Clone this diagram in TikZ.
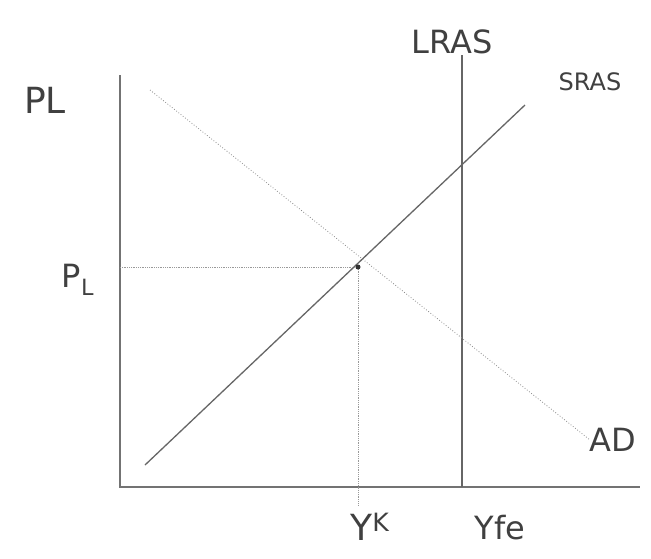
\documentclass[tikz,border=0pt]{standalone}
\usepackage{fontspec}
\setmainfont{DejaVu Sans}
\begin{document}
\begin{tikzpicture}[x=1pt,y=-1pt,
  axis/.style={draw=black!55,line width=2pt},
  curve/.style={draw=black!60,line width=1.3pt},
  faint/.style={draw=black!45,line width=0.8pt,dotted},
  guide/.style={draw=black!40,line width=0.8pt,densely dotted},
  lbl/.style={text=black!75,inner sep=0pt}]
\useasboundingbox[fill=white] (0,0) rectangle (651,558);
\coordinate (O) at (120,487);
\coordinate (ytop) at (120,75);
\coordinate (xend) at (640,487);
\coordinate (ltop) at (462,55);
\coordinate (lbot) at (462,487);
\coordinate (sa) at (145,465);
\coordinate (sb) at (525,105);
\coordinate (aa) at (150,90);
\coordinate (ab) at (590,440);
\coordinate (E) at (358,267);
\coordinate (pl) at (120,267);
\coordinate (yk) at (358,505);
\draw[axis] (ytop) -- (O) -- (xend);
\draw[curve] (ltop) -- (lbot);
\draw[curve] (sa) -- (sb);
\draw[faint] (aa) -- (ab);
\draw[guide] (pl) -- (E);
\draw[guide] (E) -- (yk);
\fill[black!80] (E) circle (2.5);
\node[lbl,font=\fontsize{36}{36}\selectfont] (PLlab) at (45,100) {PL};
\node[lbl,font=\fontsize{32}{32}\selectfont] (LRAS) at (452,42) {LRAS};
\node[lbl,font=\fontsize{24}{24}\selectfont] (SRAS) at (590,82) {SRAS};
\node[lbl,font=\fontsize{32}{32}\selectfont] (PL2) at (78,280) {P$_{\mathrm{L}}$};
\node[lbl,font=\fontsize{32}{32}\selectfont] (AD) at (613,440) {AD};
\node[lbl,font=\fontsize{36}{36}\selectfont] (YK) at (370,527) {Y$^{\mathrm{K}}$};
\node[lbl,font=\fontsize{32}{32}\selectfont] (Yfe) at (500,528) {Yfe};
\end{tikzpicture}
\end{document}
